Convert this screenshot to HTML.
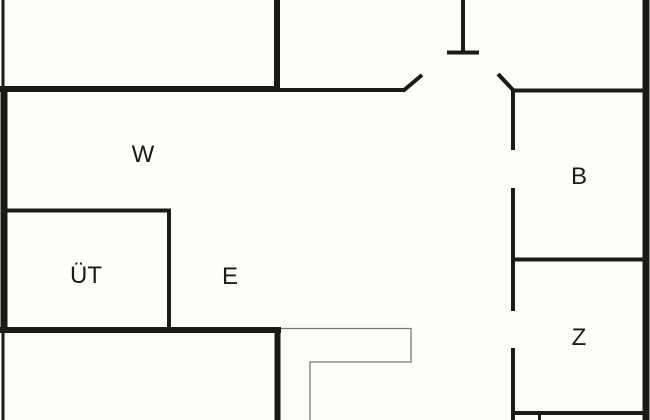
<!DOCTYPE html>
<html><head><style>
html,body{margin:0;padding:0;background:#fdfdf8;}
svg{display:block;}
text{font-family:"Liberation Sans",sans-serif;font-size:24px;fill:#1a1a1a;}
</style></head><body>
<svg width="650" height="420" viewBox="0 0 650 420" xmlns="http://www.w3.org/2000/svg">
<rect width="650" height="420" fill="#fdfdf8"/>
<g stroke="#1a1a1a" fill="none" stroke-linecap="butt">
<line x1="3" y1="0" x2="3" y2="88" stroke-width="3"/>
<line x1="4" y1="86" x2="4" y2="333" stroke-width="7"/>
<line x1="3" y1="333" x2="3" y2="420" stroke-width="3"/>
<line x1="646" y1="0" x2="646" y2="420" stroke-width="7"/>
<line x1="277" y1="0" x2="277" y2="92" stroke-width="6"/>
<line x1="0" y1="89" x2="280" y2="89" stroke-width="6"/>
<line x1="280" y1="90" x2="404" y2="90" stroke-width="4"/>
<line x1="403" y1="91" x2="422" y2="75" stroke-width="4"/>
<line x1="463" y1="0" x2="463" y2="53" stroke-width="4"/>
<line x1="447" y1="52.5" x2="479" y2="52.5" stroke-width="4"/>
<line x1="498" y1="74" x2="514" y2="91" stroke-width="4"/>
<line x1="513" y1="90.5" x2="643" y2="90.5" stroke-width="4"/>
<line x1="513" y1="90" x2="513" y2="150" stroke-width="4"/>
<line x1="513" y1="188" x2="513" y2="311" stroke-width="4"/>
<line x1="513" y1="348" x2="513" y2="420" stroke-width="4"/>
<line x1="513" y1="259.5" x2="643" y2="259.5" stroke-width="4"/>
<line x1="513" y1="413" x2="643" y2="413" stroke-width="4"/>
<line x1="539.5" y1="413" x2="539.5" y2="420" stroke-width="3"/>
<line x1="4" y1="210.5" x2="171" y2="210.5" stroke-width="4"/>
<line x1="169" y1="209" x2="169" y2="330" stroke-width="4"/>
<line x1="0" y1="330" x2="281" y2="330" stroke-width="6"/>
<line x1="277.5" y1="328" x2="277.5" y2="420" stroke-width="6"/>
</g>
<path d="M281 328.5 H411 V362 H310 V420" stroke="#777" stroke-width="1.3" fill="none"/>
<text x="143" y="162" text-anchor="middle">W</text>
<text x="86" y="283" text-anchor="middle">ÜT</text>
<text x="230" y="284" text-anchor="middle">E</text>
<text x="579" y="184" text-anchor="middle">B</text>
<text x="579" y="345" text-anchor="middle">Z</text>
</svg>
</body></html>
